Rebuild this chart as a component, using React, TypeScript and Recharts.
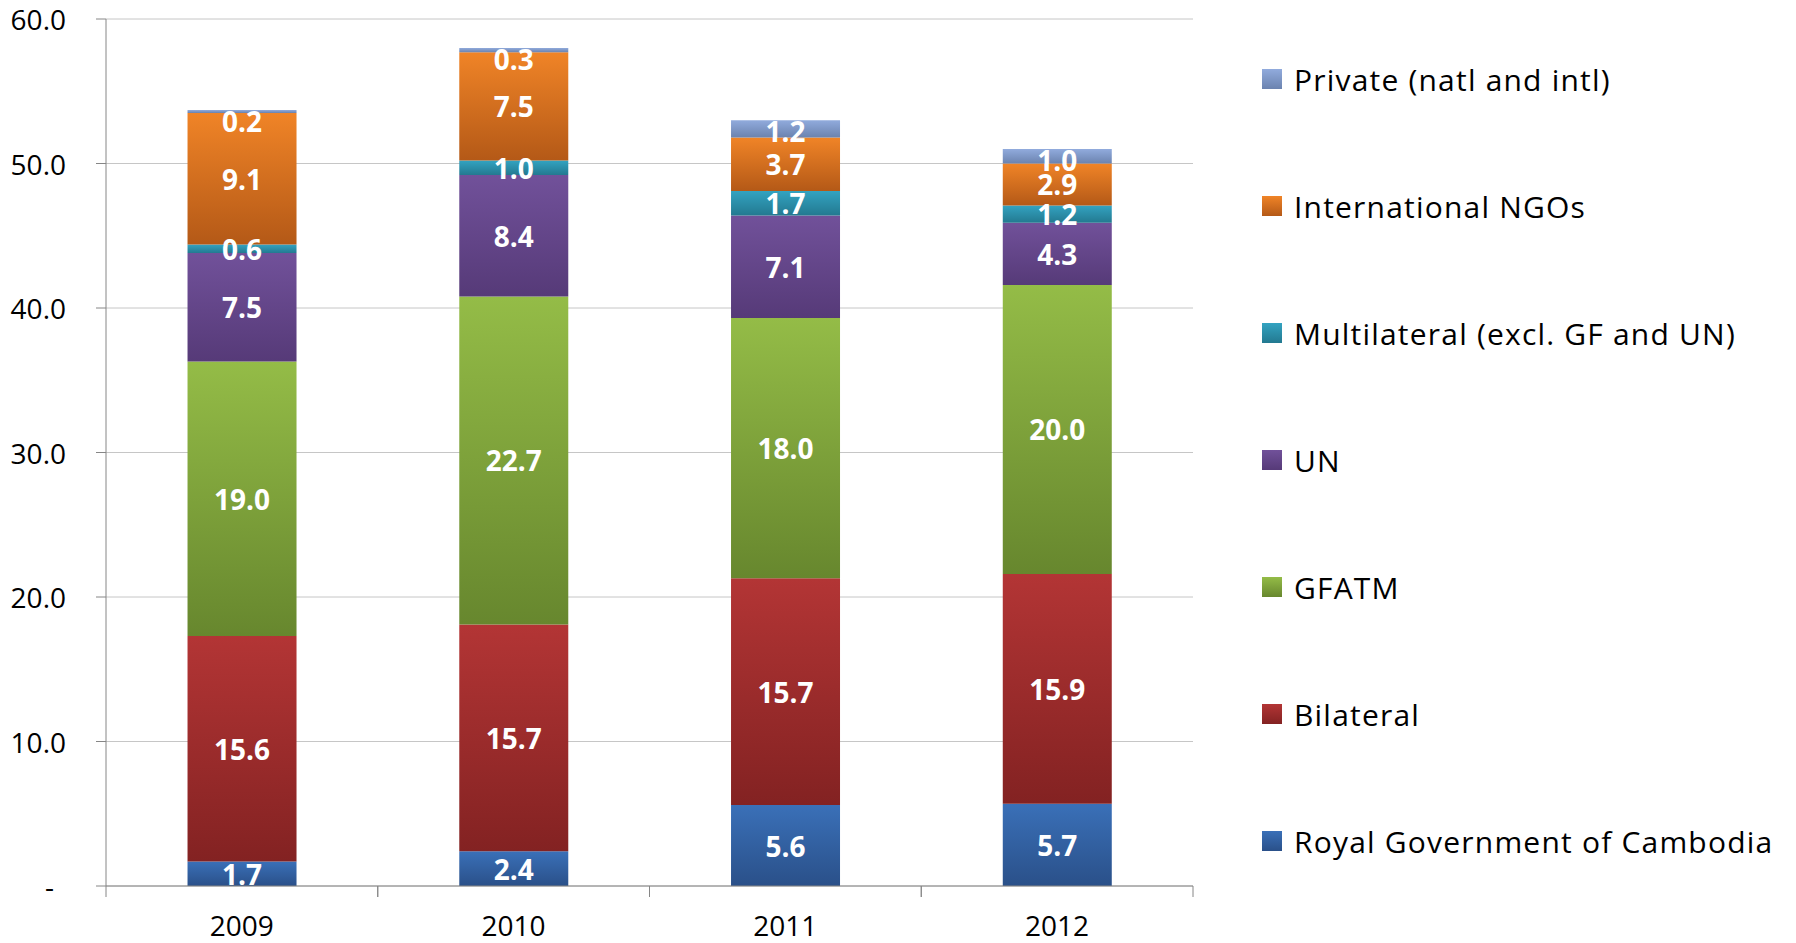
import React from "react";
import {
  BarChart,
  Bar,
  XAxis,
  YAxis,
  CartesianGrid,
  LabelList,
} from "recharts";

const years = ["2009", "2010", "2011", "2012"];
const royalGov = [1.7, 2.4, 5.6, 5.7];
const bilateral = [15.6, 15.7, 15.7, 15.9];
const gfatm = [19.0, 22.7, 18.0, 20.0];
const unAgencies = [7.5, 8.4, 7.1, 4.3];
const multilateral = [0.6, 1.0, 1.7, 1.2];
const intlNgos = [9.1, 7.5, 3.7, 2.9];
const privateSrc = [0.2, 0.3, 1.2, 1.0];
const yTicks = [0, 10, 20, 30, 40, 50, 60];

const series = [
  { key: "rgc", name: "Royal Government of Cambodia", values: royalGov, top: "#3A70B8", bottom: "#2A5089" },
  { key: "bilateral", name: "Bilateral", values: bilateral, top: "#B33535", bottom: "#832222" },
  { key: "gfatm", name: "GFATM", values: gfatm, top: "#94BC47", bottom: "#67872E" },
  { key: "un", name: "UN", values: unAgencies, top: "#71519A", bottom: "#563A78" },
  { key: "multi", name: "Multilateral (excl. GF and UN)", values: multilateral, top: "#33A3C1", bottom: "#237990" },
  { key: "ingo", name: "International NGOs", values: intlNgos, top: "#F08427", bottom: "#B45917" },
  { key: "private", name: "Private (natl and intl)", values: privateSrc, top: "#91ABDD", bottom: "#6B83AF" },
];

const data = years.map((year, i) => {
  const row: Record<string, string | number> = { year };
  series.forEach((s) => {
    row[s.key] = s.values[i];
  });
  return row;
});

const W = 1796;
const H = 943;
const LEFT = 106;
const RIGHT = 603;
const TOP = 19;
const XAXIS_H = 57;
const BAND = (W - LEFT - RIGHT) / years.length;
const AXIS = "#868686";

function YTick({ x, y, payload }: any) {
  const v = payload.value;
  return (
    <text
      x={v === 0 ? x - 12 : x}
      y={y}
      textAnchor="end"
      dominantBaseline="central"
      fontSize={28}
      fill="#000"
    >
      {v === 0 ? "-" : v.toFixed(1)}
    </text>
  );
}

function XTick({ x, y, payload }: any) {
  return (
    <g>
      <line x1={x - BAND / 2} y1={y} x2={x - BAND / 2} y2={y + 11} stroke={AXIS} />
      <line x1={x + BAND / 2} y1={y} x2={x + BAND / 2} y2={y + 11} stroke={AXIS} />
      <text x={x} y={y + 50} textAnchor="middle" fontSize={28} fill="#000">
        {payload.value}
      </text>
    </g>
  );
}

function makeLabel(isTop: boolean) {
  return function SegLabel(props: any) {
    const x = Number(props.x);
    const y = Number(props.y);
    const w = Number(props.width);
    const h = Number(props.height);
    let cy = y + h / 2;
    if (isTop) cy = Math.max(cy, y + 11);
    return (
      <text
        x={x + w / 2}
        y={cy}
        textAnchor="middle"
        dominantBaseline="central"
        fontSize={28}
        fontWeight="bold"
        fill="#fff"
      >
        {Number(props.value).toFixed(1)}
      </text>
    );
  };
}

function LegendBox() {
  const rows = [...series].reverse();
  return (
    <div style={{ position: "absolute", left: 1250, top: 0, width: 546, height: H }}>
      {rows.map((s, i) => (
        <div
          key={s.key}
          style={{
            position: "absolute",
            left: 12,
            top: 79 + i * 127 - 20,
            height: 40,
            display: "flex",
            alignItems: "center",
            whiteSpace: "nowrap",
          }}
        >
          <span
            style={{
              display: "inline-block",
              width: 20,
              height: 20,
              background: `linear-gradient(${s.top}, ${s.bottom})`,
              marginRight: 12,
            }}
          />
          <span style={{ fontSize: 30, letterSpacing: 1.2, color: "#000" }}>{s.name}</span>
        </div>
      ))}
    </div>
  );
}

export default function App() {
  return (
    <div
      style={{
        position: "absolute",
        left: 0,
        top: 0,
        width: W,
        height: H,
        background: "#fff",
        fontFamily: "'Open Sans', sans-serif",
      }}
    >
      <BarChart
        width={W}
        height={H}
        data={data}
        margin={{ top: TOP, right: RIGHT, bottom: 0, left: 0 }}
        barCategoryGap="30%"
      >
        <defs>
          {series.map((s) => (
            <linearGradient key={s.key} id={`grad-${s.key}`} x1="0" y1="0" x2="0" y2="1">
              <stop offset="0%" stopColor={s.top} />
              <stop offset="100%" stopColor={s.bottom} />
            </linearGradient>
          ))}
        </defs>
        <CartesianGrid vertical={false} stroke="#C6C6C6" />
        <XAxis
          dataKey="year"
          height={XAXIS_H}
          axisLine={{ stroke: AXIS }}
          tickLine={false}
          tickSize={0}
          tickMargin={0}
          tick={<XTick />}
          interval={0}
        />
        <YAxis
          width={LEFT}
          domain={[0, 60]}
          ticks={yTicks}
          interval={0}
          axisLine={{ stroke: AXIS }}
          tickLine={{ stroke: AXIS }}
          tickSize={10}
          tickMargin={30}
          tick={<YTick />}
        />
        {series.map((s, i) => (
          <Bar
            key={s.key}
            dataKey={s.key}
            name={s.name}
            stackId="a"
            fill={`url(#grad-${s.key})`}
            isAnimationActive={false}
          >
            <LabelList dataKey={s.key} content={makeLabel(i === series.length - 1)} />
          </Bar>
        ))}
      </BarChart>
      <LegendBox />
    </div>
  );
}
